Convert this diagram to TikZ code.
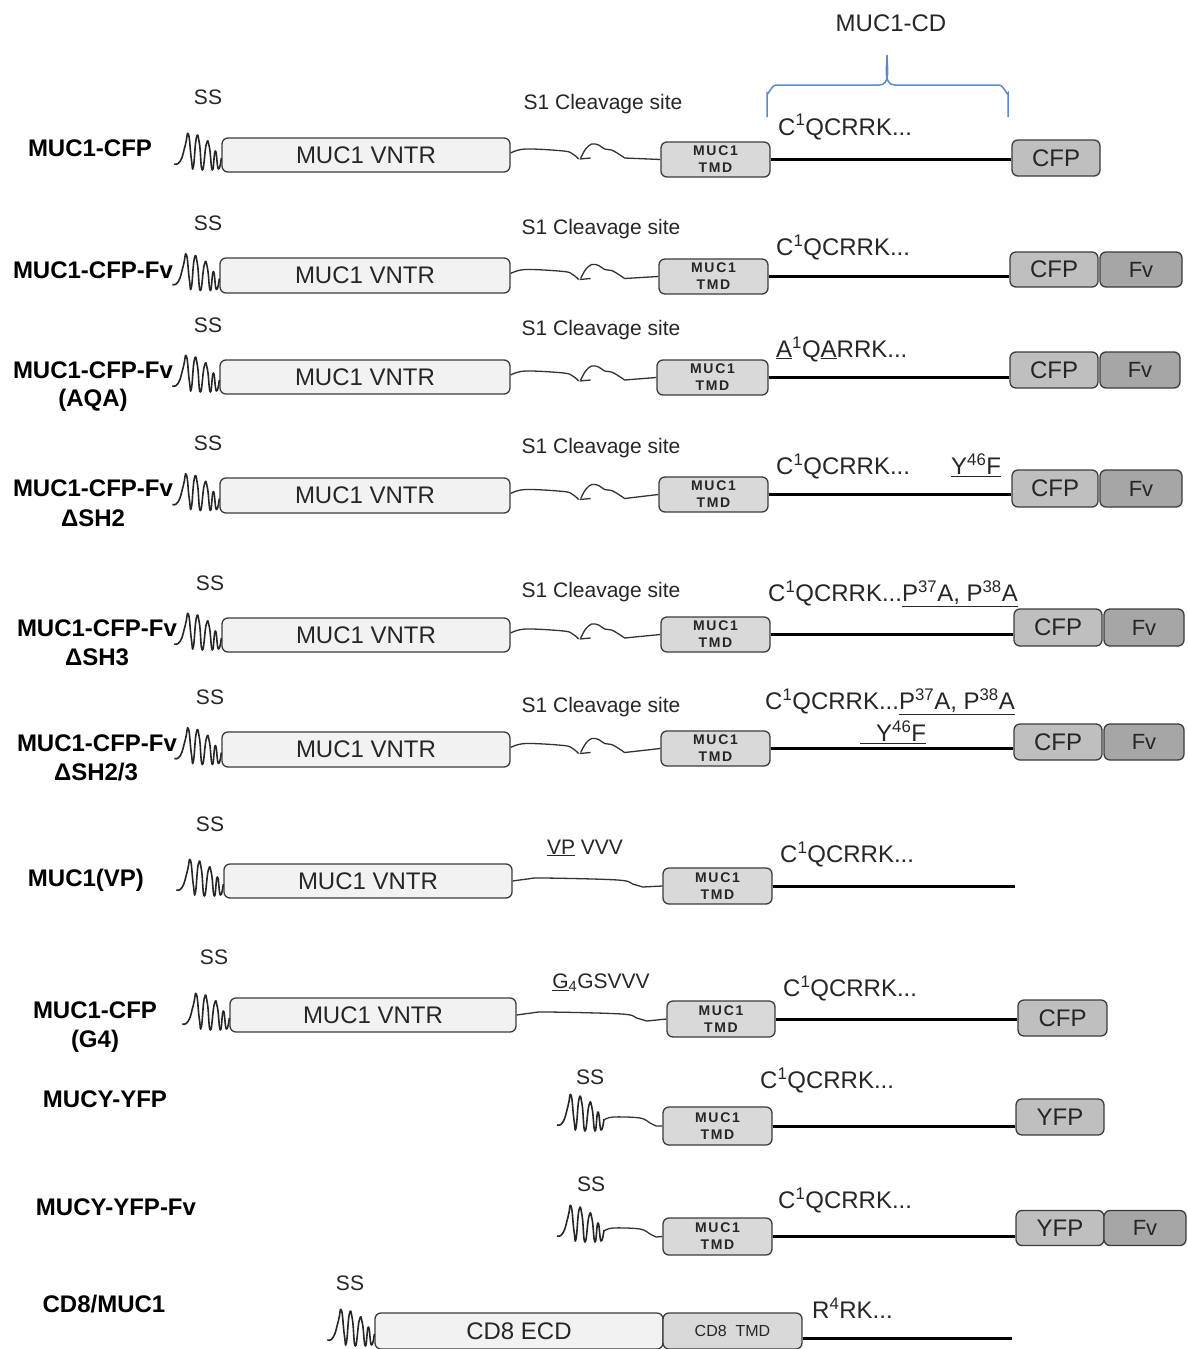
\documentclass[tikz,border=0pt]{standalone}
\usepackage{fontspec}
\setmainfont{Liberation Sans}
\newfontfamily\tmdfam[LetterSpace=12]{Liberation Sans}
\usetikzlibrary{calc}
\definecolor{boxline}{HTML}{3C3C3C}
\definecolor{vntrfill}{HTML}{F2F2F2}
\definecolor{tmdfill}{HTML}{D9D9D9}
\definecolor{cfpfill}{HTML}{BFBFBF}
\definecolor{fvfill}{HTML}{A6A6A6}
\definecolor{linkc}{HTML}{333333}
\definecolor{bracec}{RGB}{91,137,204}
\definecolor{txt}{HTML}{262626}
\newcommand\fsz[1]{\fontsize{#1}{#1}\selectfont}
\newcommand\cleav[2]{%
 \begin{scope}[shift={(#1.east)}]
  \draw[lnk] plot[smooth,tension=0.6] coordinates {(0,-2) (15,-6) (53,-4) (62,-1) (68,4)};
  \draw[lnk] (69,4) -- (80,3);
  \draw[lnk] plot[smooth,tension=0.6] coordinates {(70,3) (75,-6) (81,-11) (88,-10) (94,-6) (101,-5) (108,-1) (114,3)} -- (#2.west);
 \end{scope}}
\newcommand\plainlink[2]{%
 \begin{scope}[shift={(#1.east)}]
  \draw[lnk] plot[smooth,tension=0.6] coordinates {(0,0) (15,-2) (31,-3) (105,-1) (120,3) (130,6)} -- (#2.west);
 \end{scope}}
\newcommand\ylink[2]{%
 \begin{scope}[shift={(#1)}]
  \draw[lnk] plot[smooth,tension=0.6] coordinates {(0,4) (9,1) (36,2) (46,7) (52,10)} -- (#2.west);
 \end{scope}}
\tikzset{
 bx/.style={draw=boxline, line width=1.3pt, rounded corners=6pt, inner sep=0pt, text=txt},
 vntr/.style={bx, fill=vntrfill, minimum height=34pt, minimum width=288pt, font=\fsz{24}},
 tmd/.style={bx, fill=tmdfill, minimum width=109pt, minimum height=35pt, align=center,
   font=\tmdfam\bfseries\fontsize{14}{17}\selectfont},
 cfp/.style={bx, fill=cfpfill, minimum width=88pt, minimum height=36pt, font=\fsz{24}},
 fv/.style={bx, fill=fvfill, minimum width=82pt, minimum height=36pt, font=\fsz{22}},
 lab/.style={inner sep=0pt, font=\bfseries\fsz{24}},
 ss/.style={inner sep=0pt, text=txt, font=\fsz{21}},
 s1/.style={inner sep=0pt, text=txt, font=\fsz{21}},
 cd/.style={inner sep=0pt, anchor=west, text=txt, font=\fsz{24}},
 cdline/.style={line width=3pt, draw=black},
 lnk/.style={line width=1.3pt, draw=linkc},
 sq/.style={line width=1.6pt, draw=black!85, line join=round},
 sigseq/.pic={\draw[sq] plot[smooth, tension=0.9] coordinates {(-47,9) (-41,6) (-36,-10) (-33,-21) (-30,4) (-28,12) (-25,-17) (-22,-12) (-19,15) (-15,-11) (-12,-8) (-9,15) (-6,-4) (-3,14) (0,3)};}
}
\begin{document}
\begin{tikzpicture}[x=1pt,y=-1pt]
\useasboundingbox[fill=white] (0,0) rectangle (1187,1349);

% brace
\node[inner sep=0pt, text=txt, font=\fsz{24}] (mcd) at (891,23) {MUC1-CD};
\draw[bracec, line width=1.5pt] (767,117) -- (767,93) to[out=-90,in=180] (776,85) -- (879,85) to[out=0,in=-90] (887,55) to[out=-90,in=180] (895,85) -- (999,85) to[out=0,in=-90] (1008,93) -- (1008,117);

% Row 1
\node[lab] (l1) at (90,148) {MUC1-CFP};
\node[ss] (ss1) at (208,97) {SS};
\node[vntr] (v1) at (366,155) {MUC1 VNTR};
\node[s1] (cs1) at (603,104) {S1 Cleavage site};
\node[tmd] (t1) at (715.5,159.5) {MUC1\\TMD};
\node[cfp] (c1) at (1056,158) {CFP};
\node[cd] (q1) at (778,127) {C\textsuperscript{1}QCRRK...};
\pic at (v1.west) {sigseq};
\cleav{v1}{t1}
\draw[cdline] (t1.east) -- (t1.east -| c1.west);

% Row 2
\node[lab] (l2) at (93,270) {MUC1-CFP-Fv};
\node[ss] (ss2) at (208,223) {SS};
\node[vntr, minimum width=290pt, minimum height=35pt] (v2) at (365,275.5) {MUC1 VNTR};
\node[s1] (cs2) at (601,229) {S1 Cleavage site};
\node[tmd] (t2) at (713.5,276.5) {MUC1\\TMD};
\node[cfp, minimum height=35pt] (c2) at (1054,269.5) {CFP};
\node[fv, minimum height=35pt] (f2) at (1141,269.5) {Fv};
\node[cd] (q2) at (776,247) {C\textsuperscript{1}QCRRK...};
\pic at (v2.west) {sigseq};
\cleav{v2}{t2}
\draw[cdline] (t2.east) -- (t2.east -| c2.west);

% Row 3
\node[lab] (l3) at (93,370) {MUC1-CFP-Fv};
\node[lab] (l3b) at (93,400) {(AQA)};
\node[ss] (ss3) at (208,325) {SS};
\node[vntr, minimum width=290pt] (v3) at (365,377) {MUC1 VNTR};
\node[s1] (cs3) at (601,330) {S1 Cleavage site};
\node[tmd, minimum width=111pt] (t3) at (712.5,377.5) {MUC1\\TMD};
\node[cfp] (c3) at (1054,370) {CFP};
\node[fv, minimum width=80pt] (f3) at (1140,370) {Fv};
\node[cd] (q3) at (776,349) {\underline{A}\textsuperscript{1}Q\underline{A}RRK...};
\pic at (v3.west) {sigseq};
\cleav{v3}{t3}
\draw[cdline] (t3.east) -- (t3.east -| c3.west);

% Row 4
\node[lab] (l4) at (93,488) {MUC1-CFP-Fv};
\node[lab] (l4b) at (93,518) {ΔSH2};
\node[ss] (ss4) at (208,443) {SS};
\node[vntr, minimum width=290pt, minimum height=35pt] (v4) at (365,495.5) {MUC1 VNTR};
\node[s1] (cs4) at (601,448) {S1 Cleavage site};
\node[tmd] (t4) at (713.5,494.5) {MUC1\\TMD};
\node[cfp, minimum width=86pt, minimum height=37pt] (c4) at (1055,488.5) {CFP};
\node[fv, minimum height=37pt] (f4) at (1141,488.5) {Fv};
\node[cd] (q4) at (776,466) {C\textsuperscript{1}QCRRK...};
\node[cd] (y4) at (951,465) {\underline{Y\textsuperscript{46}F}};
\pic at (v4.west) {sigseq};
\cleav{v4}{t4}
\draw[cdline] (t4.east) -- (t4.east -| c4.west);

% Row 5
\node[lab] (l5) at (97,628) {MUC1-CFP-Fv};
\node[lab] (l5b) at (97,657) {ΔSH3};
\node[ss] (ss5) at (210,583) {SS};
\node[vntr] (v5) at (366,635) {MUC1 VNTR};
\node[s1] (cs5) at (601,592) {S1 Cleavage site};
\node[tmd] (t5) at (715.5,634.5) {MUC1\\TMD};
\node[cfp, minimum height=37pt] (c5) at (1058,627.5) {CFP};
\node[fv, minimum width=80pt, minimum height=37pt] (f5) at (1144,627.5) {Fv};
\node[cd] (q5) at (768,594) {C\textsuperscript{1}QCRRK...\underline{P\textsuperscript{37}A, P\textsuperscript{38}A}};
\pic at (v5.west) {sigseq};
\cleav{v5}{t5}
\draw[cdline] (t5.east) -- (t5.east -| c5.west);

% Row 6
\node[lab] (l6) at (97,743) {MUC1-CFP-Fv};
\node[lab] (l6b) at (96,772) {ΔSH2/3};
\node[ss] (ss6) at (210,697) {SS};
\node[vntr, minimum height=35pt] (v6) at (366,749.5) {MUC1 VNTR};
\node[s1] (cs6) at (601,707) {S1 Cleavage site};
\node[tmd] (t6) at (715.5,748.5) {MUC1\\TMD};
\node[cfp] (c6) at (1058,742) {CFP};
\node[fv, minimum width=80pt] (f6) at (1144,742) {Fv};
\node[cd] (q6) at (765,702) {C\textsuperscript{1}QCRRK...\underline{P\textsuperscript{37}A, P\textsuperscript{38}A}};
\node[cd] (y6) at (860,732) {\underline{\hspace{16pt}Y\textsuperscript{46}F}};
\pic at (v6.west) {sigseq};
\cleav{v6}{t6}
\draw[cdline] (t6.east) -- (t6.east -| c6.west);

% Row 7
\node[lab] (l7) at (86,880) {MUC1(VP)};
\node[ss] (ss7) at (210,824) {SS};
\node[vntr] (v7) at (368,881) {MUC1 VNTR};
\node[s1] (vp7) at (585,848) {\underline{VP} VVV};
\node[tmd, minimum height=36pt] (t7) at (717.5,886) {MUC1\\TMD};
\node[cd] (q7) at (780,854) {C\textsuperscript{1}QCRRK...};
\coordinate (e7) at (1015,886);
\pic at (v7.west) {sigseq};
\plainlink{v7}{t7}
\draw[cdline] (t7.east) -- (e7);

% Row 8
\node[lab] (l8) at (95,1010) {MUC1-CFP};
\node[lab] (l8b) at (95,1041) {(G4)};
\node[ss] (ss8) at (214,957) {SS};
\node[vntr, minimum width=286pt] (v8) at (373,1015) {MUC1 VNTR};
\node[s1] (g8) at (601,983) {\underline{G}\textsubscript{4}GSVVV};
\node[tmd, minimum width=108pt, minimum height=36pt] (t8) at (721,1019) {MUC1\\TMD};
\node[cfp, minimum width=89pt] (c8) at (1062.5,1018) {CFP};
\node[cd] (q8) at (783,988) {C\textsuperscript{1}QCRRK...};
\pic at (v8.west) {sigseq};
\plainlink{v8}{t8}
\draw[cdline] (t8.east) -- (t8.east -| c8.west);

% Row 9
\node[lab] (l9) at (105,1099) {MUCY-YFP};
\node[ss] (ss9) at (590,1077) {SS};
\coordinate (sq9) at (604,1116);
\node[tmd, minimum height=38pt] (t9) at (717.5,1126) {MUC1\\TMD};
\node[cfp] (c9) at (1060,1117) {YFP};
\node[cd] (q9) at (760,1080) {C\textsuperscript{1}QCRRK...};
\pic at (sq9) {sigseq};
\ylink{sq9}{t9}
\draw[cdline] (t9.east) -- (t9.east -| c9.west);

% Row 10
\node[lab] (l10) at (116,1207) {MUCY-YFP-Fv};
\node[ss] (ss10) at (591,1184) {SS};
\coordinate (sq10) at (604,1227);
\node[tmd, minimum height=37pt] (t10) at (717.5,1236.5) {MUC1\\TMD};
\node[cfp, minimum height=35pt] (c10) at (1060,1228) {YFP};
\node[fv, minimum height=35pt] (f10) at (1145,1228) {Fv};
\node[cd] (q10) at (778,1200) {C\textsuperscript{1}QCRRK...};
\pic at (sq10) {sigseq};
\ylink{sq10}{t10}
\draw[cdline] (t10.east) -- (t10.east -| c10.west);

% Row 11
\node[lab] (l11) at (104,1304) {CD8/MUC1};
\node[ss] (ss11) at (350,1283) {SS};
\node[vntr, minimum height=36pt] (e11) at (519,1331) {CD8 ECD};
\node[bx, fill=tmdfill, minimum width=139pt, minimum height=36pt, font=\fsz{16}] (k11) at (732.5,1331) {CD8\ \ TMD};
\node[cd] (q11) at (812,1308) {R\textsuperscript{4}RK...};
\coordinate (z11) at (1012,1338);
\pic at (e11.west) {sigseq};
\draw[cdline] (z11 -| k11.east) -- (z11);
\end{tikzpicture}
\end{document}
